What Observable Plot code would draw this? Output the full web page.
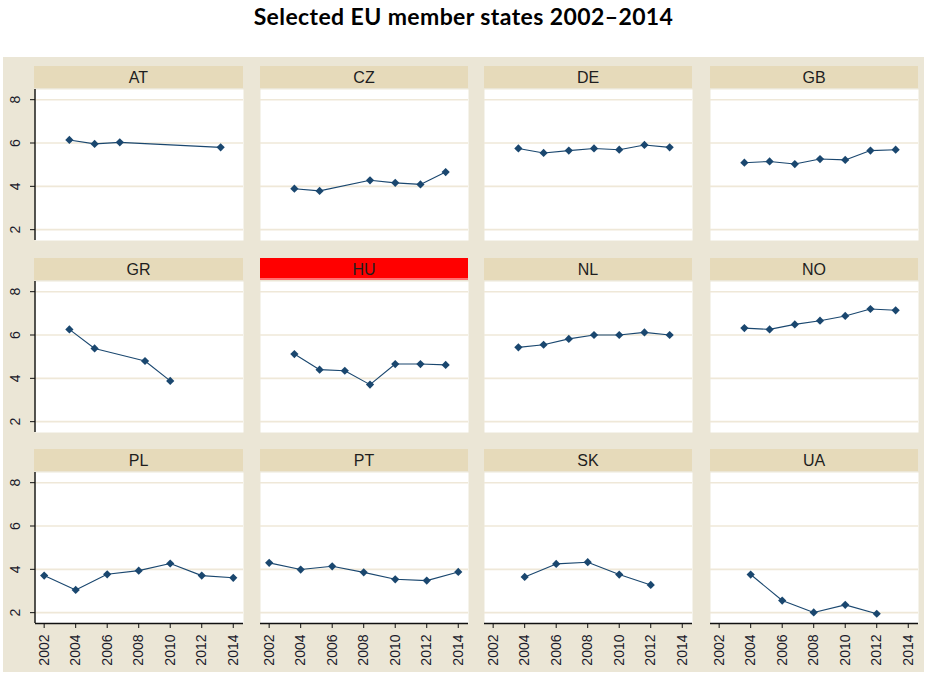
<!DOCTYPE html>
<html><head><meta charset="utf-8">
<script src="https://cdn.jsdelivr.net/npm/d3@7"></script>
<script src="https://cdn.jsdelivr.net/npm/@observablehq/plot@0.6"></script>
<style>
body{margin:0;background:#fff;width:927px;height:675px;position:relative;overflow:hidden;font-family:"Liberation Sans",Arial,sans-serif;}
#title{position:absolute;left:0;top:2px;width:927px;text-align:center;font-family:Lato,sans-serif;font-weight:bold;font-size:23px;letter-spacing:0.4px;color:#000;}
#bg{position:absolute;left:3px;top:57px;width:921px;height:615px;background:#EBE6D6;}
.hdr{position:absolute;height:22px;background:#E6DABA;text-align:center;font-size:16px;line-height:23px;color:#1e1e1e;box-sizing:border-box;}
.hdr.hl{background:#FF0000;border-bottom:2px solid #FF7070;}
.panel{position:absolute;}
</style></head><body>
<div id="title">Selected EU member states 2002–2014</div>
<div id="bg"></div>
<div id="chart"></div>
<script>
// ---- data ----
const countries = ["AT","CZ","DE","GB","GR","HU","NL","NO","PL","PT","SK","UA"];
const highlighted = ["HU"];
const yTicks = [2, 4, 6, 8];
const xTicks = [2002, 2004, 2006, 2008, 2010, 2012, 2014];

const years_AT = [2003.6, 2005.2, 2006.8, 2013.2];
const values_AT = [6.14, 5.96, 6.03, 5.80];
const years_CZ = [2003.6, 2005.2, 2008.4, 2010.0, 2011.6, 2013.2];
const values_CZ = [3.89, 3.79, 4.28, 4.16, 4.09, 4.66];
const years_DE = [2003.6, 2005.2, 2006.8, 2008.4, 2010.0, 2011.6, 2013.2];
const values_DE = [5.75, 5.54, 5.65, 5.75, 5.69, 5.91, 5.80];
const years_GB = [2003.6, 2005.2, 2006.8, 2008.4, 2010.0, 2011.6, 2013.2];
const values_GB = [5.09, 5.15, 5.03, 5.26, 5.22, 5.65, 5.69];
const years_GR = [2003.6, 2005.2, 2008.4, 2010.0];
const values_GR = [6.26, 5.38, 4.80, 3.88];
const years_HU = [2003.6, 2005.2, 2006.8, 2008.4, 2010.0, 2011.6, 2013.2];
const values_HU = [5.12, 4.40, 4.35, 3.71, 4.66, 4.66, 4.62];
const years_NL = [2003.6, 2005.2, 2006.8, 2008.4, 2010.0, 2011.6, 2013.2];
const values_NL = [5.43, 5.55, 5.82, 6.00, 6.00, 6.12, 6.00];
const years_NO = [2003.6, 2005.2, 2006.8, 2008.4, 2010.0, 2011.6, 2013.2];
const values_NO = [6.32, 6.26, 6.49, 6.66, 6.88, 7.20, 7.14];
const years_PL = [2002, 2004, 2006, 2008, 2010, 2012, 2014];
const values_PL = [3.71, 3.05, 3.77, 3.94, 4.27, 3.71, 3.61];
const years_PT = [2002, 2004, 2006, 2008, 2010, 2012, 2014];
const values_PT = [4.30, 3.99, 4.14, 3.86, 3.54, 3.48, 3.88];
const years_SK = [2004, 2006, 2008, 2010, 2012];
const values_SK = [3.65, 4.25, 4.33, 3.76, 3.28];
const years_UA = [2004, 2006, 2008, 2010, 2012];
const values_UA = [3.76, 2.56, 2.01, 2.36, 1.95];

const seriesYears = {AT:years_AT, CZ:years_CZ, DE:years_DE, GB:years_GB, GR:years_GR, HU:years_HU,
  NL:years_NL, NO:years_NO, PL:years_PL, PT:years_PT, SK:years_SK, UA:years_UA};
const seriesValues = {AT:values_AT, CZ:values_CZ, DE:values_DE, GB:values_GB, GR:values_GR, HU:values_HU,
  NL:values_NL, NO:values_NO, PL:values_PL, PT:values_PT, SK:values_SK, UA:values_UA};

// ---- layout ----
const colLeft = [35, 260, 484, 710];
const rowTop = [89, 281, 472];
const plotW = 208, plotH = 151, hdrH = 22;
const navy = "#1a476f";
const chart = document.getElementById("chart");

countries.forEach((c, i) => {
  const col = i % 4, row = Math.floor(i / 4);
  const data = seriesYears[c].map((y, k) => ({year: y, value: seriesValues[c][k]}));
  const ml = col === 0 ? 36 : 0;
  const mb = row === 2 ? 55 : 0;

  const hdr = document.createElement("div");
  hdr.className = "hdr" + (highlighted.includes(c) ? " hl" : "");
  hdr.style.left = (colLeft[col] - (col === 0 ? 1 : 0)) + "px";
  hdr.style.top = (rowTop[row] - hdrH - 1) + "px";
  hdr.style.width = (plotW + (col === 0 ? 1 : 0)) + "px";
  hdr.textContent = c;
  chart.appendChild(hdr);

  const marks = [
    Plot.frame({fill: "white", stroke: "none"}),
    Plot.ruleY(yTicks, {stroke: "#EFE8D8", strokeWidth: 1.6}),
    Plot.line(data, {x: "year", y: "value", stroke: navy, strokeWidth: 1.1}),
    Plot.dot(data, {x: "year", y: "value", symbol: "diamond2", fill: navy, stroke: "none", r: 3.7})
  ];
  if (col === 0) {
    marks.push(Plot.axisY(yTicks, {label: null, tickSize: 5, tickPadding: 11, tickRotate: -90, fontSize: 14, stroke: "#111"}));
    marks.push(Plot.ruleX([2001.45], {stroke: "#111", strokeWidth: 1.4, dx: -0.5}));
  }
  if (row === 2) {
    marks.push(Plot.axisX(xTicks, {label: null, tickSize: 5, tickPadding: 6, tickRotate: -90, tickFormat: d => String(d), fontSize: 14, stroke: "#111"}));
    marks.push(Plot.ruleY([1.5], {stroke: "#111", strokeWidth: 1.4}));
  }

  const svg = Plot.plot({
    width: ml + plotW, height: plotH + mb,
    marginLeft: ml, marginRight: 0, marginTop: 0, marginBottom: mb,
    x: {domain: [2001.45, 2014.65], axis: null, label: null},
    y: {domain: [1.5, 8.47], axis: null, label: null},
    style: {background: "transparent", fontFamily: "'Liberation Sans', Arial, sans-serif", fontSize: "14px", color: "#1a1a2a", overflow: "visible"},
    marks
  });
  const wrap = document.createElement("div");
  wrap.className = "panel";
  wrap.style.left = (colLeft[col] - ml) + "px";
  wrap.style.top = rowTop[row] + "px";
  wrap.appendChild(svg);
  chart.appendChild(wrap);
});
</script>
</body></html>
